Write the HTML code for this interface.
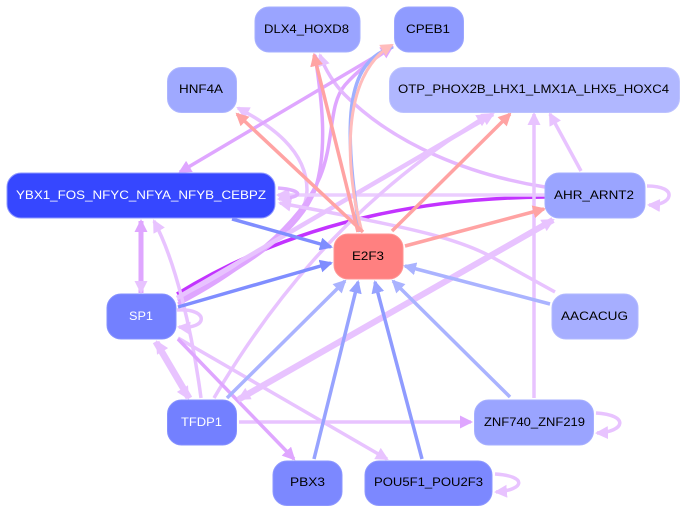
<!DOCTYPE html>
<html><head><meta charset="utf-8"><style>
html,body{margin:0;padding:0;background:#fff}
svg{display:block}
text{font-family:"Liberation Sans",sans-serif;font-size:12px;text-anchor:start}
path.e{fill:none;stroke-linecap:butt}
rect{stroke-width:1}
</style></head><body>
<svg width="686" height="512" viewBox="0 0 686 512" xmlns="http://www.w3.org/2000/svg">
<defs>
<marker id="L" markerUnits="userSpaceOnUse" markerWidth="16" markerHeight="14" refX="11" refY="6.500" orient="auto"><path d="M0,0L13,6.500L0,13z" fill="#e8c3ff"/></marker>
<marker id="P" markerUnits="userSpaceOnUse" markerWidth="16" markerHeight="14" refX="11" refY="6.500" orient="auto"><path d="M0,0L13,6.500L0,13z" fill="#dfa6ff"/></marker>
<marker id="R" markerUnits="userSpaceOnUse" markerWidth="16" markerHeight="14" refX="11" refY="6.500" orient="auto"><path d="M0,0L13,6.500L0,13z" fill="#ffa3a3"/></marker>
<marker id="Q" markerUnits="userSpaceOnUse" markerWidth="16" markerHeight="14" refX="11" refY="6.500" orient="auto"><path d="M0,0L13,6.500L0,13z" fill="#ffbcbc"/></marker>
<marker id="B1" markerUnits="userSpaceOnUse" markerWidth="16" markerHeight="14" refX="11" refY="6.500" orient="auto"><path d="M0,0L13,6.500L0,13z" fill="#7f8dff"/></marker>
<marker id="B2" markerUnits="userSpaceOnUse" markerWidth="16" markerHeight="14" refX="11" refY="6.500" orient="auto"><path d="M0,0L13,6.500L0,13z" fill="#97a3ff"/></marker>
<marker id="B3" markerUnits="userSpaceOnUse" markerWidth="16" markerHeight="14" refX="11" refY="6.500" orient="auto"><path d="M0,0L13,6.500L0,13z" fill="#aab3ff"/></marker>
</defs>

<!-- strong purple -->
<path class="e" d="M545,197C450,198 310,212 177,294" stroke="#c233ff" stroke-width="3.500"/>

<!-- light curves -->
<path class="e" d="M178,298C235,265 307,235 307,190C307,150 270,125 238,108" stroke="#e8c3ff" stroke-width="3.500" marker-end="url(#L)"/>
<path class="e" d="M178,301C250,265 300,230 315,190C328,150 322,100 315,55" stroke="#dfa6ff" stroke-width="3.500" marker-end="url(#P)"/>
<path class="e" d="M178,304C240,272 300,225 320,177C335,140 328,105 345,85C358,70 375,58 392,47" stroke="#dfa6ff" stroke-width="3.500" marker-end="url(#P)"/>
<path class="e" d="M545,187C470,175 395,145 345,95C335,85 325,70 320,55" stroke="#e4b8ff" stroke-width="3.500" marker-end="url(#L)"/>
<path class="e" d="M393,46L180,172" stroke="#dfa6ff" stroke-width="3.500" marker-end="url(#P)"/>
<path class="e" d="M545,195L278,195" stroke="#ebcdff" stroke-width="3.500" marker-end="url(#L)"/>
<path class="e" d="M555,292L490,256C450,235 390,225 343,215L280,203" stroke="#e8c3ff" stroke-width="3.500" marker-end="url(#L)"/>
<path class="e" d="M177,298L493,114" stroke="#e8c3ff" stroke-width="4.500" marker-end="url(#L)"/>
<path class="e" d="M214,398C260,320 340,205 488,115" stroke="#e8c3ff" stroke-width="3.500" marker-end="url(#L)"/>
<path class="e" d="M201,398C192,330 175,260 154,221" stroke="#e8c3ff" stroke-width="3.500" marker-end="url(#L)"/>
<path class="e" d="M534,398L534,114" stroke="#e8c3ff" stroke-width="3.500" marker-end="url(#L)"/>
<path class="e" d="M581,171L550,114" stroke="#e8c3ff" stroke-width="3.500" marker-end="url(#L)"/>
<path class="e" d="M178,338L387,459" stroke="#e8c3ff" stroke-width="3.500" marker-end="url(#L)"/>
<path class="e" d="M239,422L471,422" stroke="#e8c3ff" stroke-width="3.500" marker-end="url(#P)"/>
<path class="e" d="M178,339L294,459" stroke="#dfa6ff" stroke-width="3.500" marker-end="url(#P)"/>
<path class="e" d="M155,342L188,398" stroke="#e8c3ff" stroke-width="5" marker-end="url(#L)"/>
<path class="e" d="M190,398L157,342" stroke="#e8c3ff" stroke-width="5" marker-end="url(#L)"/>
<path class="e" d="M141,293L141,221" stroke="#dfa6ff" stroke-width="5" marker-end="url(#P)"/>
<path class="e" d="M141,221L141,292" stroke="#dfa6ff" stroke-width="5" marker-end="url(#L)"/>
<path class="e" d="M238,400L553,220" stroke="#e8c3ff" stroke-width="6" marker-end="url(#L)"/>
<path class="e" d="M553,220L239,399" stroke="#e8c3ff" stroke-width="6" marker-end="url(#L)"/>

<!-- self loops -->
<path class="e" d="M278,188C302,190 306,197 279,199" stroke="#e0b0ff" stroke-width="3.500" marker-end="url(#L)"/>
<path class="e" d="M647,186C680,186 672,206 649,205" stroke="#e8c3ff" stroke-width="3.500" marker-end="url(#L)"/>
<path class="e" d="M177,310C210,308 208,330 179,327" stroke="#e8c3ff" stroke-width="3.500" marker-end="url(#L)"/>
<path class="e" d="M596,413C630,415 625,432 597,433" stroke="#e8c3ff" stroke-width="3.500" marker-end="url(#L)"/>
<path class="e" d="M495,474C528,476 525,490 496,492" stroke="#e8c3ff" stroke-width="3.500" marker-end="url(#L)"/>

<!-- E2F3 edges -->
<path class="e" d="M393,47C350,60 340,110 360,232" stroke="#9fb0ff" stroke-width="3.500"/>
<path class="e" d="M362,232C345,170 340,75 392,45" stroke="#ffbcbc" stroke-width="3" marker-end="url(#Q)"/>
<path class="e" d="M363,232L237,114" stroke="#ffa3a3" stroke-width="3.500" marker-end="url(#R)"/>
<path class="e" d="M358,232L314,55" stroke="#ffa3a3" stroke-width="3.500" marker-end="url(#R)"/>
<path class="e" d="M392,231L510,114" stroke="#ffa3a3" stroke-width="3.500" marker-end="url(#R)"/>
<path class="e" d="M405,246L544,209" stroke="#ffa3a3" stroke-width="3.500" marker-end="url(#R)"/>
<path class="e" d="M232,219L331,247" stroke="#7f8dff" stroke-width="3.500" marker-end="url(#B1)"/>
<path class="e" d="M178,307L331,263" stroke="#7f8dff" stroke-width="3.500" marker-end="url(#B1)"/>
<path class="e" d="M227,398L345,281" stroke="#aab3ff" stroke-width="3.500" marker-end="url(#B3)"/>
<path class="e" d="M314,459L358,282" stroke="#97a3ff" stroke-width="3.500" marker-end="url(#B2)"/>
<path class="e" d="M422,459L375,282" stroke="#8f9bff" stroke-width="3.500" marker-end="url(#B2)"/>
<path class="e" d="M510,397L393,281" stroke="#aab3ff" stroke-width="3.500" marker-end="url(#B3)"/>
<path class="e" d="M550,304L405,266" stroke="#aab3ff" stroke-width="3.500" marker-end="url(#B3)"/>

<!-- nodes -->
<rect x="255" y="7" width="105" height="45" rx="14" fill="#9aa4ff" stroke="#a6afff"/>
<rect x="394.500" y="7" width="69" height="45" rx="14" fill="#8f9bff" stroke="#9ca6ff"/>
<rect x="167.500" y="67.500" width="69" height="45" rx="14" fill="#9fa9ff" stroke="#adb5ff"/>
<rect x="389.500" y="67.500" width="290" height="45" rx="14" fill="#b0b7ff" stroke="#bcc2ff"/>
<rect x="7" y="173" width="268" height="45" rx="14" fill="#3647ff" stroke="#8e98ff"/>
<rect x="545" y="173" width="100" height="45" rx="14" fill="#9aa4ff" stroke="#a6afff"/>
<rect x="334" y="234" width="69" height="45" rx="14" fill="#ff8080" stroke="#ff9494"/>
<rect x="107" y="294" width="69" height="45" rx="14" fill="#7380ff" stroke="#8590ff"/>
<rect x="552" y="294" width="86" height="45" rx="14" fill="#a6aeff" stroke="#b2b9ff"/>
<rect x="167.500" y="400" width="69" height="45" rx="14" fill="#7380ff" stroke="#8590ff"/>
<rect x="474.500" y="400" width="119" height="45" rx="14" fill="#9aa4ff" stroke="#a6afff"/>
<rect x="273" y="461" width="69" height="44.500" rx="14" fill="#7c88ff" stroke="#8d97ff"/>
<rect x="365" y="461" width="127" height="44.500" rx="14" fill="#7c88ff" stroke="#8d97ff"/>

<text x="264" y="33" textLength="85" lengthAdjust="spacingAndGlyphs">DLX4_HOXD8</text>
<text x="406" y="33" textLength="44" lengthAdjust="spacingAndGlyphs">CPEB1</text>
<text x="179" y="93" textLength="44" lengthAdjust="spacingAndGlyphs">HNF4A</text>
<text x="398" y="93" textLength="271" lengthAdjust="spacingAndGlyphs">OTP_PHOX2B_LHX1_LMX1A_LHX5_HOXC4</text>
<text x="16" y="199" textLength="250" lengthAdjust="spacingAndGlyphs" fill="#fff">YBX1_FOS_NFYC_NFYA_NFYB_CEBPZ</text>
<text x="554" y="199" textLength="80" lengthAdjust="spacingAndGlyphs">AHR_ARNT2</text>
<text x="352" y="260" textLength="32" lengthAdjust="spacingAndGlyphs">E2F3</text>
<text x="129" y="320" textLength="24" lengthAdjust="spacingAndGlyphs" fill="#fff">SP1</text>
<text x="561" y="320" textLength="67" lengthAdjust="spacingAndGlyphs">AACACUG</text>
<text x="181" y="426" textLength="41" lengthAdjust="spacingAndGlyphs" fill="#fff">TFDP1</text>
<text x="484" y="426" textLength="101" lengthAdjust="spacingAndGlyphs">ZNF740_ZNF219</text>
<text x="290" y="486" textLength="35" lengthAdjust="spacingAndGlyphs">PBX3</text>
<text x="374" y="486" textLength="109" lengthAdjust="spacingAndGlyphs">POU5F1_POU2F3</text>
</svg>
</body></html>
